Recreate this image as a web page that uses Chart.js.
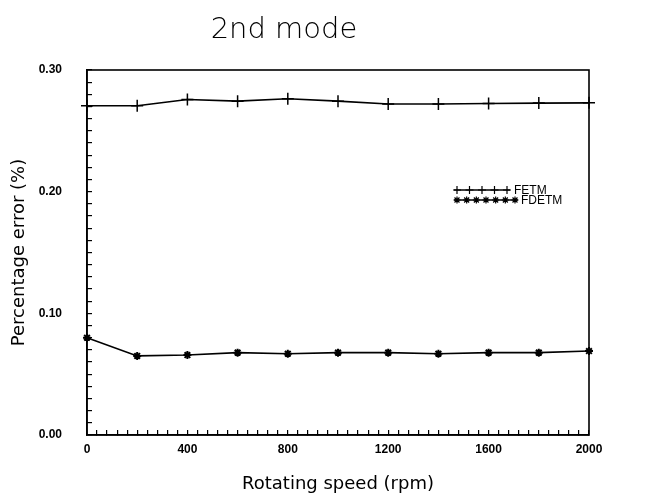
<!DOCTYPE html>
<html lang="en">
<head>
    <meta charset="UTF-8">
    <title>2nd mode</title>
    <style>
        html, body { margin: 0; padding: 0; background: #fff; overflow: hidden; }
        canvas { display: block; }
    </style>
</head>
<body>
    <canvas id="chart" width="662" height="501"></canvas>
    <script src="https://cdn.jsdelivr.net/npm/chart.js@4.4.1/dist/chart.umd.min.js"></script>
    <script>
        // values
        const rpm = [0, 200, 400, 600, 800, 1000, 1200, 1400, 1600, 1800, 2000];
        const fetm = [0.2706, 0.2706, 0.2758, 0.2744, 0.2764, 0.2744, 0.2720, 0.2720, 0.2725, 0.2728, 0.2730];
        const fdetm = [0.080, 0.065, 0.0657, 0.0677, 0.0668, 0.0677, 0.0677, 0.0668, 0.0677, 0.0677, 0.069];
        const seriesNames = ["FETM", "FDETM"];
        const yTickLabels = ["0.00", "0.10", "0.20", "0.30"];
        const xTickLabels = ["0", "400", "800", "1200", "1600", "2000"];

        const toPoints = (ys) => rpm.map((x, i) => ({ x: x, y: ys[i] }));

        // frame on top / right of the plot area
        const frame = {
            id: "frame",
            afterDraw(chart) {
                const { ctx, chartArea: a } = chart;
                ctx.save();
                ctx.strokeStyle = "#000";
                ctx.lineWidth = 1.6;
                ctx.strokeRect(a.left, a.top, a.right - a.left, a.bottom - a.top);
                ctx.restore();
            }
        };

        // big title, drawn where the original sits
        const bigTitle = {
            id: "bigTitle",
            afterDraw(chart) {
                const ctx = chart.ctx;
                ctx.save();
                ctx.fillStyle = "#000";
                ctx.font = "200 29px 'DejaVu Sans'";
                ctx.textAlign = "center";
                ctx.textBaseline = "middle";
                ctx.fillText("2nd mode", 284, 30);
                ctx.restore();
            }
        };

        // legend inside the plot: a line with markers, then the name
        const innerLegend = {
            id: "innerLegend",
            afterDraw(chart) {
                const ctx = chart.ctx;
                const rows = [
                    { y: 190, x0: 454, x1: 510, n: 5, r: 4, tx: 514 },
                    { y: 200, x0: 454, x1: 518, n: 7, r: 3.5, tx: 521 }
                ];
                ctx.save();
                chart.data.datasets.forEach((ds, i) => {
                    const r = rows[i];
                    ctx.strokeStyle = "#000";
                    ctx.lineWidth = 1.3;
                    ctx.beginPath();
                    ctx.moveTo(r.x0, r.y);
                    ctx.lineTo(r.x1, r.y);
                    ctx.stroke();
                    ctx.lineWidth = 1.2;
                    for (let k = 0; k < r.n; k++) {
                        const px = r.x0 + 3 + k * (r.x1 - r.x0 - 6) / (r.n - 1);
                        Chart.helpers.drawPoint(ctx, {
                            pointStyle: ds.pointStyle,
                            radius: r.r,
                            rotation: 0,
                            borderWidth: 1.2
                        }, px, r.y);
                    }
                    ctx.fillStyle = "#000";
                    ctx.font = "12px 'Liberation Sans'";
                    ctx.textAlign = "left";
                    ctx.textBaseline = "middle";
                    ctx.fillText(ds.label, r.tx, r.y + 1);
                });
                ctx.restore();
            }
        };

        const isMajor = (v, step) => Math.abs(v / step - Math.round(v / step)) < 1e-6;

        new Chart(document.getElementById("chart"), {
            type: "line",
            data: {
                datasets: [
                    {
                        label: seriesNames[0],
                        data: toPoints(fetm),
                        borderColor: "#000",
                        backgroundColor: "#000",
                        borderWidth: 1.6,
                        pointStyle: "cross",
                        pointRadius: 6,
                        pointBorderWidth: 1.5,
                        tension: 0,
                        clip: false
                    },
                    {
                        label: seriesNames[1],
                        data: toPoints(fdetm),
                        borderColor: "#000",
                        backgroundColor: "#000",
                        borderWidth: 1.6,
                        pointStyle: "star",
                        pointRadius: 4,
                        pointBorderWidth: 2,
                        tension: 0,
                        clip: false
                    }
                ]
            },
            plugins: [frame, bigTitle, innerLegend],
            options: {
                responsive: false,
                animation: false,
                devicePixelRatio: 1,
                layout: { padding: { top: 70, right: 73, left: 0, bottom: 0 } },
                plugins: {
                    legend: { display: false },
                    tooltip: { enabled: false },
                    title: { display: false }
                },
                scales: {
                    x: {
                        type: "linear",
                        min: 0,
                        max: 2000,
                        afterFit: (s) => { s.height = 66; },
                        border: { display: true, color: "#000", width: 1.6 },
                        grid: { drawOnChartArea: false, drawTicks: true, tickLength: -5, color: "#000", lineWidth: 1.2 },
                        ticks: {
                            stepSize: 40,
                            autoSkip: false,
                            maxRotation: 0,
                            padding: 12,
                            color: "#000",
                            font: { family: "'Liberation Sans'", size: 12, weight: "bold" },
                            callback: (v) => isMajor(v, 400) ? xTickLabels[Math.round(v / 400)] : ""
                        },
                        title: {
                            display: true,
                            text: "Rotating speed (rpm)",
                            color: "#000",
                            font: { family: "'DejaVu Sans'", size: 18, weight: "normal" },
                            padding: { top: 0, bottom: 6 }
                        }
                    },
                    y: {
                        min: 0,
                        max: 0.3,
                        afterFit: (s) => { s.width = 87; },
                        border: { display: true, color: "#000", width: 1.6 },
                        grid: { drawOnChartArea: false, drawTicks: true, tickLength: -5, color: "#000", lineWidth: 1.2 },
                        ticks: {
                            stepSize: 0.01,
                            autoSkip: false,
                            padding: 30,
                            color: "#000",
                            font: { family: "'Liberation Sans'", size: 12, weight: "bold" },
                            callback: (v) => isMajor(v, 0.1) ? yTickLabels[Math.round(v / 0.1)] : ""
                        },
                        title: {
                            display: true,
                            text: "Percentage error (%)",
                            color: "#000",
                            font: { family: "'DejaVu Sans'", size: 18, weight: "normal" },
                            padding: { top: 9, bottom: 0 }
                        }
                    }
                }
            }
        });
    </script>
</body>
</html>
